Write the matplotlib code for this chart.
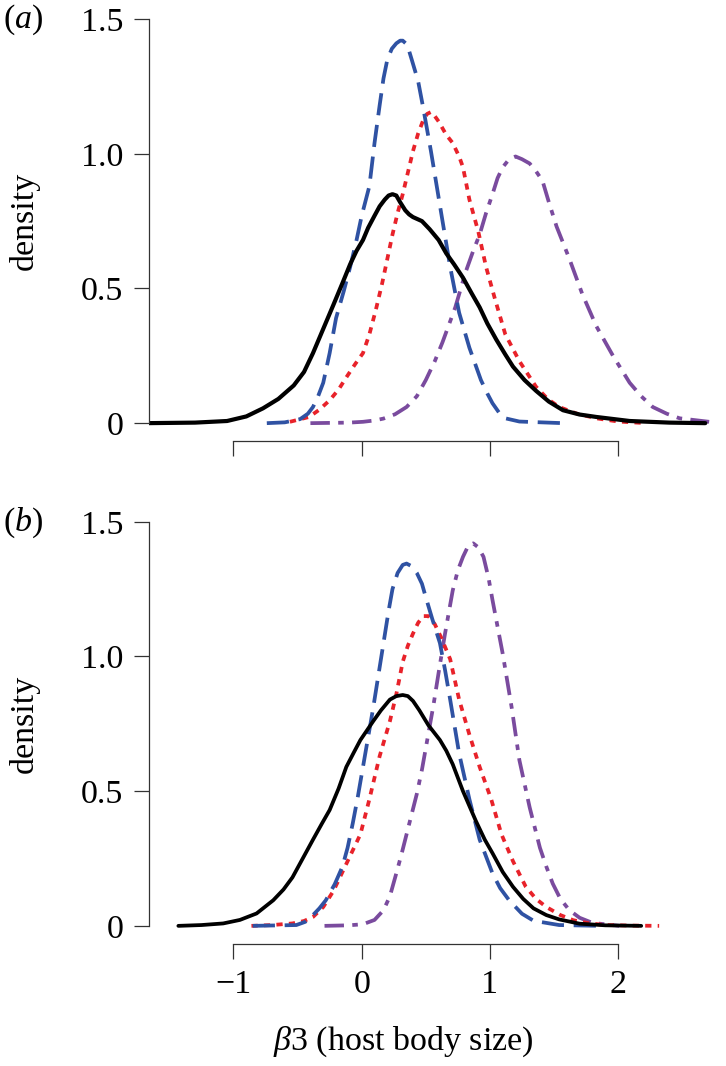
import matplotlib
matplotlib.use("Agg")
import matplotlib.pyplot as plt

plt.rcParams['font.family'] = ['Liberation Serif', 'DejaVu Serif']
plt.rcParams['mathtext.fontset'] = 'custom'
plt.rcParams['mathtext.rm'] = 'Liberation Serif'
plt.rcParams['mathtext.it'] = 'Liberation Serif:italic'
plt.rcParams['lines.scale_dashes'] = False

# ---- panel (a) ----
a_black_x = [-1.68, -1.3, -1.05, -0.9, -0.77, -0.65, -0.53, -0.45, -0.38, -0.30, -0.22, -0.15, -0.09,
             -0.04, 0.01, 0.05, 0.10, 0.14, 0.18, 0.21, 0.24, 0.27, 0.30, 0.34, 0.37, 0.40, 0.47, 0.53,
             0.60, 0.66, 0.72, 0.79, 0.86, 0.92, 0.98, 1.05, 1.12, 1.18, 1.27, 1.36, 1.46, 1.57,
             1.70, 1.83, 2.09, 2.4, 2.68]
a_black_y = [0, 0.002, 0.008, 0.025, 0.055, 0.09, 0.14, 0.19, 0.26, 0.35, 0.44, 0.52, 0.59,
             0.64, 0.68, 0.725, 0.77, 0.805, 0.83, 0.845, 0.85, 0.845, 0.82, 0.79, 0.775, 0.765, 0.75, 0.72,
             0.68, 0.63, 0.59, 0.54, 0.48, 0.43, 0.37, 0.31, 0.255, 0.21, 0.16, 0.12, 0.08, 0.048,
             0.032, 0.023, 0.008, 0.002, 0.0]
a_blue_x = [-0.74, -0.6, -0.48, -0.42, -0.38, -0.34, -0.30, -0.25, -0.20, -0.14, -0.09, -0.04, 0.0, 0.06,
            0.10, 0.14, 0.17, 0.20, 0.235, 0.27, 0.30, 0.32, 0.355, 0.39, 0.44, 0.48, 0.54, 0.62,
            0.69, 0.76, 0.84, 0.93, 0.98, 1.02, 1.07, 1.12, 1.23, 1.40, 1.57]
a_blue_y = [0, 0.003, 0.015, 0.035, 0.06, 0.10, 0.15, 0.26, 0.39, 0.49, 0.58, 0.68, 0.77, 0.88,
            1.04, 1.18, 1.28, 1.35, 1.39, 1.41, 1.42, 1.42, 1.405, 1.35, 1.27, 1.17, 1.01, 0.78,
            0.58, 0.41, 0.28, 0.16, 0.11, 0.074, 0.04, 0.018, 0.006, 0.003, 0.0]
a_red_x = [-0.56, -0.41, -0.33, -0.25, -0.18, -0.12, -0.05, 0.01, 0.06, 0.11, 0.16, 0.20, 0.24, 0.28,
           0.32, 0.36, 0.40, 0.44, 0.48, 0.51, 0.54, 0.57, 0.60, 0.66, 0.71, 0.76, 0.79, 0.84, 0.91,
           0.97, 1.04, 1.12, 1.23, 1.36, 1.45, 1.54, 1.68, 1.83, 2.0, 2.22]
a_red_y = [0.005, 0.023, 0.05, 0.085, 0.125, 0.17, 0.22, 0.26, 0.33, 0.42, 0.52, 0.61, 0.70, 0.78,
           0.85, 0.93, 1.01, 1.075, 1.125, 1.148, 1.155, 1.14, 1.12, 1.07, 1.04, 0.99, 0.95, 0.83, 0.71,
           0.58, 0.46, 0.33, 0.23, 0.135, 0.09, 0.06, 0.035, 0.018, 0.006, 0.0]
a_purple_x = [-0.40, -0.1, 0.01, 0.10, 0.17, 0.26, 0.35, 0.43, 0.50, 0.57, 0.63, 0.68, 0.73, 0.81,
              0.87, 0.92, 0.97, 1.02, 1.06, 1.10, 1.15, 1.20, 1.25, 1.31, 1.36, 1.41, 1.46, 1.52,
              1.57, 1.62, 1.72, 1.83, 1.96, 2.09, 2.18, 2.27, 2.38, 2.48, 2.71]
a_purple_y = [0.0, 0.002, 0.005, 0.01, 0.017, 0.033, 0.06, 0.10, 0.16, 0.23, 0.30, 0.365, 0.43, 0.56,
              0.64, 0.70, 0.78, 0.85, 0.91, 0.95, 0.98, 0.99, 0.98, 0.964, 0.935, 0.90, 0.82, 0.73,
              0.67, 0.61, 0.48, 0.36, 0.25, 0.15, 0.10, 0.06, 0.035, 0.018, 0.005]

# ---- panel (b) ----
b_black_x = [-1.43, -1.25, -1.08, -0.95, -0.82, -0.69, -0.61, -0.54, -0.46, -0.38, -0.31, -0.25, -0.18,
             -0.12, -0.06, -0.01, 0.04, 0.09, 0.15, 0.22, 0.27, 0.32, 0.36, 0.40, 0.45, 0.52,
             0.61, 0.66, 0.71, 0.79, 0.89, 0.96, 1.02, 1.10, 1.18, 1.26, 1.34, 1.44, 1.54, 1.70, 1.9, 2.18]
b_black_y = [0, 0.003, 0.009, 0.022, 0.046, 0.095, 0.135, 0.18, 0.25, 0.32, 0.38, 0.43, 0.51,
             0.59, 0.645, 0.69, 0.725, 0.76, 0.80, 0.84, 0.853, 0.857, 0.853, 0.835, 0.80, 0.745,
             0.69, 0.65, 0.60, 0.50, 0.39, 0.32, 0.27, 0.20, 0.145, 0.10, 0.065, 0.04, 0.024, 0.008, 0.002, 0.0]
b_blue_x = [-0.85, -0.51, -0.44, -0.38, -0.33, -0.28, -0.21, -0.15, -0.11, -0.07, -0.03, 0.01, 0.05,
            0.09, 0.13, 0.17, 0.21, 0.24, 0.28, 0.32, 0.35, 0.39, 0.43, 0.47, 0.50, 0.55, 0.61,
            0.65, 0.69, 0.76, 0.84, 0.92, 1.02, 1.08, 1.15, 1.25, 1.34, 1.54, 1.86]
b_blue_y = [0, 0.003, 0.015, 0.04, 0.065, 0.095, 0.155, 0.22, 0.29, 0.38, 0.48, 0.59, 0.70,
            0.81, 0.93, 1.05, 1.17, 1.25, 1.31, 1.34, 1.345, 1.335, 1.31, 1.27, 1.22, 1.14, 1.05,
            0.95, 0.84, 0.64, 0.47, 0.32, 0.195, 0.14, 0.095, 0.045, 0.019, 0.003, 0]
b_red_x = [-0.86, -0.70, -0.54, -0.45, -0.38, -0.30, -0.22, -0.12, -0.01, 0.06, 0.14, 0.22, 0.27, 0.32,
           0.36, 0.40, 0.44, 0.48, 0.52, 0.57, 0.62, 0.69, 0.76, 0.84, 0.92, 1.01, 1.09, 1.18, 1.28,
           1.36, 1.44, 1.55, 1.65, 1.78, 1.91, 2.1, 2.32]
b_red_y = [0, 0.003, 0.009, 0.018, 0.033, 0.07, 0.13, 0.23, 0.34, 0.47, 0.63, 0.76, 0.86, 0.98,
           1.04, 1.085, 1.125, 1.15, 1.15, 1.12, 1.07, 0.99, 0.84, 0.71, 0.59, 0.47, 0.34, 0.24, 0.145,
           0.10, 0.07, 0.04, 0.021, 0.009, 0.003, 0.001, 0]
b_purple_x = [-0.29, -0.1, 0.01, 0.10, 0.17, 0.22, 0.27, 0.31, 0.35, 0.39, 0.43, 0.47, 0.50, 0.56, 0.60,
              0.65, 0.71, 0.75, 0.79, 0.83, 0.87, 0.91, 0.95, 0.99, 1.02, 1.06, 1.10, 1.17, 1.23, 1.31,
              1.39, 1.44, 1.49, 1.55, 1.62, 1.70, 1.80, 2.01]
b_purple_y = [0, 0.002, 0.006, 0.022, 0.058, 0.11, 0.195, 0.265, 0.34, 0.415, 0.49, 0.58, 0.66, 0.82, 0.94,
              1.085, 1.245, 1.32, 1.37, 1.41, 1.42, 1.405, 1.37, 1.29, 1.21, 1.11, 1.01, 0.81, 0.615, 0.44,
              0.29, 0.22, 0.157, 0.10, 0.058, 0.03, 0.011, 0]

x_ticks = [-1, 0, 1, 2]
y_ticks = [0, 0.5, 1.0, 1.5]
y_ticklabels = ['0', '0.5', '1.0', '1.5']

BLUE = '#2f52a3'
RED = '#e8222a'
PURPLE = '#7a4b9e'

W, H = 726, 1066
fig = plt.figure(figsize=(W / 100, H / 100), dpi=100)

ax_left = 149 / W
ax_w = 570.4 / W
ax_h = 439.2 / H
ax_a = fig.add_axes([ax_left, (H - 440.8) / H, ax_w, ax_h])
ax_b = fig.add_axes([ax_left, (H - 943.5) / H, ax_w, ax_h])

panels = [
    (ax_a, a_black_x, a_black_y, a_blue_x, a_blue_y, a_red_x, a_red_y, a_purple_x, a_purple_y, 3.0),
    (ax_b, b_black_x, b_black_y, b_blue_x, b_blue_y, b_red_x, b_red_y, b_purple_x, b_purple_y, 2.7),
]

for ax, kx, ky, bx, by, rx, ry, px, py, klw in panels:
    ax.plot(px, py, color=PURPLE, lw=2.7, dashes=(14, 6, 4, 6), solid_joinstyle='round',
            dash_joinstyle='round')
    ax.plot(rx, ry, color=RED, lw=2.7, dashes=(4.5, 4.5), dash_joinstyle='round')
    ax.plot(bx, by, color=BLUE, lw=2.7, dashes=(16, 7), dash_joinstyle='round')
    ax.plot(kx, ky, color='black', lw=klw, solid_capstyle='round', solid_joinstyle='round')

    ax.set_xlim(-1.659, 2.79)
    ax.set_ylim(-0.0655, 1.565)
    for s in ['top', 'right']:
        ax.spines[s].set_visible(False)
    ax.spines['left'].set_bounds(0, 1.5)
    ax.spines['bottom'].set_bounds(-1, 2)
    for s in ['left', 'bottom']:
        ax.spines[s].set_color('#333333')
        ax.spines[s].set_linewidth(0.9)
    ax.set_yticks(y_ticks)
    ax.set_yticklabels(y_ticklabels)
    ax.set_xticks(x_ticks)
    ax.tick_params(direction='out', length=10.6, width=0.9, color='#333333',
                   labelsize=24.5, pad=8)
    ax.patch.set_visible(False)

ax_a.set_xticklabels([])
ax_b.set_xticklabels(['\u22121', '0', '1', '2'])

# axis labels and panel tags
fig.text(24 / W, (H - 221) / H, 'density', rotation=90, ha='center', va='center', fontsize=24.5)
fig.text(24 / W, (H - 723.7) / H, 'density', rotation=90, ha='center', va='center', fontsize=24.5)
fig.text(3 / W, (H - 20) / H, '($a$)', ha='left', va='center', fontsize=24.5)
fig.text(3 / W, (H - 523) / H, '($b$)', ha='left', va='center', fontsize=24.5)
fig.text(403 / W, (H - 1050) / H, r'$\beta$3 (host body size)', ha='center', va='baseline',
         fontsize=24.5)

fig.savefig('out.png', dpi=100)
plt.close(fig)
